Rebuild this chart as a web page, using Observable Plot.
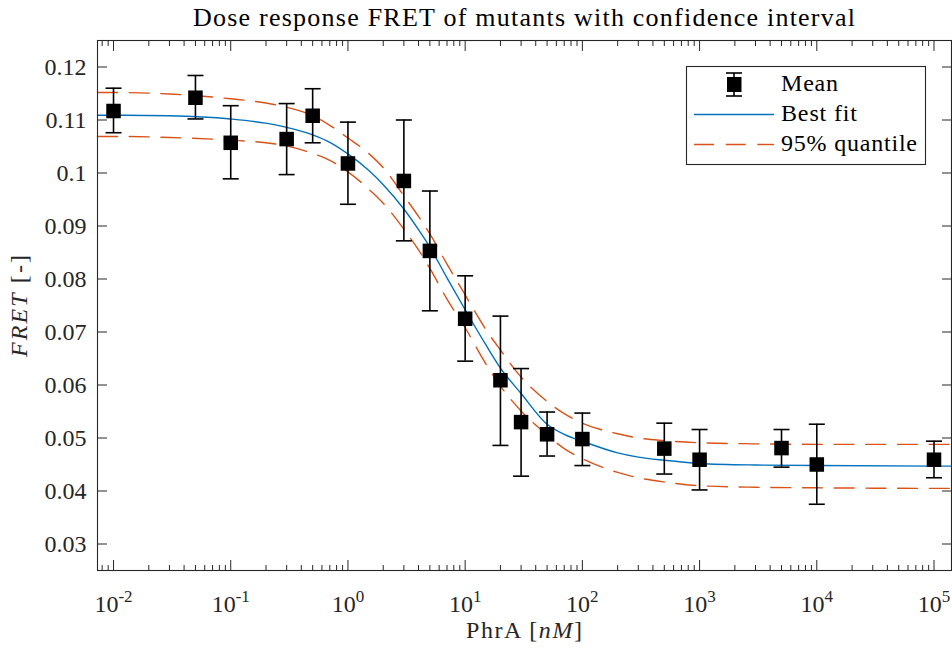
<!DOCTYPE html>
<html>
<head>
<meta charset="utf-8">
<script src="https://cdn.jsdelivr.net/npm/d3@7"></script>
<script src="https://cdn.jsdelivr.net/npm/@observablehq/plot@0.6"></script>
<style>
html,body{margin:0;padding:0;background:#fff;}
#chart svg{display:block;}
#chart svg text{font-family:"Liberation Serif","Times New Roman",serif;}
</style>
</head>
<body>
<div id="chart"></div>
<script>
// ---- data ----
const doses = [0.01, 0.05, 0.1, 0.3, 0.5, 1, 3, 5, 10, 20, 30, 50, 100, 500, 1000, 5000, 10000, 100000];
const meanFret = [0.1117, 0.1142, 0.1057, 0.1064, 0.1108, 0.1018, 0.0985, 0.0853, 0.0725, 0.0609, 0.0530, 0.0507, 0.0498, 0.0480, 0.0459, 0.0481, 0.0450, 0.0459];
const errLower = [0.1076, 0.1102, 0.0989, 0.0997, 0.1057, 0.0941, 0.0872, 0.0740, 0.0645, 0.0486, 0.0428, 0.0466, 0.0448, 0.0432, 0.0402, 0.0445, 0.0375, 0.0425];
const errUpper = [0.1160, 0.1184, 0.1127, 0.1131, 0.1159, 0.1096, 0.1100, 0.0966, 0.0806, 0.0730, 0.0631, 0.0549, 0.0547, 0.0528, 0.0516, 0.0516, 0.0526, 0.0494];

const curveX = [0.0073, 0.01, 0.03, 0.1, 0.2, 0.3, 0.5, 0.7, 1, 1.5, 2, 3, 4, 5, 7, 10, 15, 20, 30, 50, 70, 100, 200, 300, 500, 1000, 3000, 10000, 100000, 141000];
const bestFit = [0.1109, 0.1109, 0.1108, 0.1102, 0.1094, 0.1086, 0.1072, 0.1058, 0.1036, 0.1005, 0.0978, 0.0932, 0.0893, 0.0860, 0.0802, 0.0742, 0.0676, 0.0632, 0.0584, 0.0526, 0.0507, 0.0494, 0.0472, 0.0464, 0.0458, 0.0452, 0.0449, 0.0448, 0.0447, 0.0447];
const upperBand = [0.1152, 0.1152, 0.1149, 0.1140, 0.1132, 0.1124, 0.1108, 0.1090, 0.1066, 0.1037, 0.1010, 0.0957, 0.0918, 0.0885, 0.0828, 0.0770, 0.0705, 0.0666, 0.0615, 0.0569, 0.0546, 0.0528, 0.0508, 0.0500, 0.0495, 0.0491, 0.0489, 0.0488, 0.0488, 0.0488];
const lowerBand = [0.1069, 0.1069, 0.1067, 0.1062, 0.1057, 0.1051, 0.1037, 0.1024, 0.1002, 0.0970, 0.0943, 0.0894, 0.0855, 0.0820, 0.0762, 0.0708, 0.0640, 0.0598, 0.0551, 0.0506, 0.0480, 0.0461, 0.0435, 0.0425, 0.0417, 0.0410, 0.0407, 0.0406, 0.0405, 0.0405];

const yTicks = [0.03, 0.04, 0.05, 0.06, 0.07, 0.08, 0.09, 0.1, 0.11, 0.12];
const xMajorTicks = [0.01, 0.1, 1, 10, 100, 1000, 10000, 100000];
const xExponents = ["-2", "-1", "0", "1", "2", "3", "4", "5"];
const minorMultipliers = [2, 3, 4, 5, 6, 7, 8, 9];
const minorDecades = [0.001, 0.01, 0.1, 1, 10, 100, 1000, 10000, 100000];
const xDomain = [0.0073, 141000];
const yDomain = [0.025, 0.125];

const titleText = "Dose response FRET of mutants with confidence interval";
const legendLabels = ["Mean", "Best fit", "95% quantile"];

// ---- styling ----
const FONT = "'Liberation Serif', 'Times New Roman', serif";
const AX = "#262626";
const BLUE = "#0072BD";
const ORANGE = "#D95319";
const DASH = "20,11.7";

const points = doses.map((x, i) => ({x, mean: meanFret[i], lo: errLower[i], hi: errUpper[i]}));
const curve = curveX.map((x, i) => ({x, fit: bestFit[i], up: upperBand[i], low: lowerBand[i]}));
const minorTicks = [];
for (const d of minorDecades) for (const m of minorMultipliers) {
  const v = +(m * d).toPrecision(3);
  if (v > xDomain[0] && v < xDomain[1]) minorTicks.push(v);
}
const expByTick = new Map(xMajorTicks.map((t, i) => [t, xExponents[i]]));

const capSymbol = {
  draw(ctx, size) {
    const w = Math.sqrt(size / Math.PI);
    ctx.moveTo(-w, 0);
    ctx.lineTo(w, 0);
  }
};
const blank = () => "";

const plot = Plot.plot({
  width: 952,
  height: 650,
  marginLeft: 97,
  marginRight: 1,
  marginTop: 40,
  marginBottom: 80,
  style: {fontFamily: FONT, fontSize: "24px", color: AX, background: "#fff"},
  x: {type: "log", domain: xDomain},
  y: {domain: yDomain},
  marks: [
    Plot.line(curve, {x: "x", y: "up", stroke: ORANGE, strokeWidth: 1.4, strokeDasharray: DASH, curve: "monotone-x"}),
    Plot.line(curve, {x: "x", y: "low", stroke: ORANGE, strokeWidth: 1.4, strokeDasharray: DASH, curve: "monotone-x"}),
    Plot.line(curve, {x: "x", y: "fit", stroke: BLUE, strokeWidth: 1.4, curve: "monotone-x"}),
    Plot.ruleX(points, {x: "x", y1: "lo", y2: "hi", stroke: "#000", strokeWidth: 1.6}),
    Plot.dot(points, {x: "x", y: "hi", symbol: capSymbol, r: 8, stroke: "#000", strokeWidth: 1.6, fill: "none"}),
    Plot.dot(points, {x: "x", y: "lo", symbol: capSymbol, r: 8, stroke: "#000", strokeWidth: 1.6, fill: "none"}),
    Plot.dot(points, {x: "x", y: "mean", symbol: "square", r: 8.2, fill: "#000", stroke: "none"}),
    Plot.frame({stroke: AX, strokeWidth: 1.1}),
    // y axis labels and inward ticks
    Plot.axisY(yTicks, {anchor: "left", tickSize: 0, tickPadding: 11, fontSize: 24, label: null,
      tickFormat: d => String(Math.round(d * 100) / 100)}),
    Plot.axisY(yTicks, {anchor: "left", tickSize: 10, dx: 10, tickFormat: blank, label: null, stroke: AX}),
    Plot.axisY(yTicks, {anchor: "right", tickSize: 10, dx: -10, tickFormat: blank, label: null, stroke: AX}),
    // x axis labels and inward ticks
    Plot.axisX(xMajorTicks, {anchor: "bottom", tickSize: 0, tickPadding: 24, fontSize: 24, label: null,
      tickFormat: d => expByTick.get(d)}),
    Plot.axisX(xMajorTicks, {anchor: "bottom", tickSize: 10, dy: -10, tickFormat: blank, label: null, stroke: AX}),
    Plot.axisX(xMajorTicks, {anchor: "top", tickSize: 10, dy: 10, tickFormat: blank, label: null, stroke: AX}),
    Plot.axisX(minorTicks, {anchor: "bottom", tickSize: 5, dy: -5, tickFormat: blank, label: null, stroke: AX}),
    Plot.axisX(minorTicks, {anchor: "top", tickSize: 5, dy: 5, tickFormat: blank, label: null, stroke: AX})
  ]
});

document.getElementById("chart").appendChild(plot);
const svg = d3.select(plot);

// x tick labels as 10^n
svg.selectAll('g[aria-label="x-axis tick label"] text').each(function () {
  const t = d3.select(this);
  const e = t.text();
  if (!e) return;
  t.text("10");
  t.append("tspan").attr("dy", -10).attr("font-size", 17).text(e);
});

// title
svg.append("text")
  .attr("x", 524).attr("y", 26)
  .attr("text-anchor", "middle")
  .attr("font-size", 26)
  .attr("fill", "#000")
  .attr("textLength", 662).attr("lengthAdjust", "spacing")
  .text(titleText);

// x label
const xl = svg.append("text")
  .attr("x", 524).attr("y", 638)
  .attr("text-anchor", "middle")
  .attr("font-size", 24).attr("fill", AX)
  .attr("textLength", 116).attr("lengthAdjust", "spacing");
xl.append("tspan").text("PhrA [");
xl.append("tspan").attr("font-style", "italic").text("nM");
xl.append("tspan").text("]");

// y label
const yl = svg.append("text")
  .attr("transform", "translate(27,306) rotate(-90)")
  .attr("text-anchor", "middle")
  .attr("font-size", 24).attr("fill", AX)
  .attr("textLength", 102).attr("lengthAdjust", "spacing");
yl.append("tspan").attr("font-style", "italic").text("FRET");
yl.append("tspan").text(" [-]");

// legend
const lg = svg.append("g");
lg.append("rect").attr("x", 686.5).attr("y", 66.5).attr("width", 239).attr("height", 98)
  .attr("fill", "#fff").attr("stroke", AX).attr("stroke-width", 1.1);
// Mean icon
lg.append("line").attr("x1", 734).attr("x2", 734).attr("y1", 73).attr("y2", 96).attr("stroke", "#000").attr("stroke-width", 1.6);
lg.append("line").attr("x1", 726).attr("x2", 742).attr("y1", 73).attr("y2", 73).attr("stroke", "#000").attr("stroke-width", 1.6);
lg.append("line").attr("x1", 726).attr("x2", 742).attr("y1", 96).attr("y2", 96).attr("stroke", "#000").attr("stroke-width", 1.6);
lg.append("rect").attr("x", 727).attr("y", 77).attr("width", 14.5).attr("height", 15).attr("fill", "#000");
// lines
lg.append("line").attr("x1", 694).attr("x2", 774).attr("y1", 114.5).attr("y2", 114.5).attr("stroke", BLUE).attr("stroke-width", 1.4);
lg.append("line").attr("x1", 694).attr("x2", 774).attr("y1", 144.5).attr("y2", 144.5).attr("stroke", ORANGE).attr("stroke-width", 1.4).attr("stroke-dasharray", DASH);
const legendY = [91, 121, 151];
const legendW = [57, 76, 136];
legendLabels.forEach((s, i) => {
  lg.append("text").attr("x", 781).attr("y", legendY[i])
    .attr("text-anchor", "start").attr("font-size", 24).attr("fill", "#000")
    .attr("textLength", legendW[i]).attr("lengthAdjust", "spacing")
    .text(s);
});
</script>
</body>
</html>
